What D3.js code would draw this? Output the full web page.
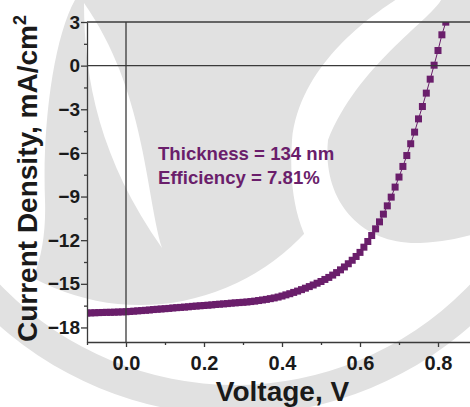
<!DOCTYPE html>
<html>
<head>
<meta charset="utf-8">
<script src="https://cdn.jsdelivr.net/npm/d3@7"></script>
<style>
	body { margin: 0; background: #fff; }
	svg { display: block; }
	text { font-family: "Liberation Sans", Arial, sans-serif; font-weight: bold; }
</style>
</head>
<body>
<div id="chart"></div>
<script>
// J-V sweep, one point every 10 mV
const voltage = [
	-0.10, -0.09, -0.08, -0.07, -0.06, -0.05, -0.04, -0.03, -0.02, -0.01,
	0.00, 0.01, 0.02, 0.03, 0.04, 0.05, 0.06, 0.07, 0.08, 0.09,
	0.10, 0.11, 0.12, 0.13, 0.14, 0.15, 0.16, 0.17, 0.18, 0.19,
	0.20, 0.21, 0.22, 0.23, 0.24, 0.25, 0.26, 0.27, 0.28, 0.29,
	0.30, 0.31, 0.32, 0.33, 0.34, 0.35, 0.36, 0.37, 0.38, 0.39,
	0.40, 0.41, 0.42, 0.43, 0.44, 0.45, 0.46, 0.47, 0.48, 0.49,
	0.50, 0.51, 0.52, 0.53, 0.54, 0.55, 0.56, 0.57, 0.58, 0.59,
	0.60, 0.61, 0.62, 0.63, 0.64, 0.65, 0.66, 0.67, 0.68, 0.69,
	0.70, 0.71, 0.72, 0.73, 0.74, 0.75, 0.76, 0.77, 0.78, 0.79,
	0.80, 0.81, 0.82, 0.83
];
const currentDensity = [
	-17.01, -17.00, -16.99, -16.98, -16.97, -16.96, -16.96, -16.95, -16.94, -16.93,
	-16.92, -16.90, -16.88, -16.86, -16.84, -16.82, -16.80, -16.77, -16.75, -16.73,
	-16.71, -16.69, -16.66, -16.64, -16.62, -16.60, -16.58, -16.55, -16.53, -16.51,
	-16.49, -16.47, -16.45, -16.42, -16.40, -16.38, -16.36, -16.33, -16.31, -16.29,
	-16.27, -16.25, -16.22, -16.19, -16.15, -16.11, -16.07, -16.02, -15.97, -15.91,
	-15.84, -15.76, -15.68, -15.59, -15.50, -15.40, -15.30, -15.19, -15.08, -14.96,
	-14.84, -14.70, -14.56, -14.40, -14.23, -14.04, -13.84, -13.62, -13.38, -13.12,
	-12.84, -12.48, -12.09, -11.68, -11.22, -10.74, -10.21, -9.64, -9.04, -8.35,
	-7.66, -6.93, -6.18, -5.37, -4.57, -3.66, -2.81, -1.89, -0.93, 0.03,
	1.04, 2.12, 2.99, 4.05
];

const xMajorTicks = [0.0, 0.2, 0.4, 0.6, 0.8];
const xMinorTicks = [-0.1, 0.1, 0.3, 0.5, 0.7];
const yMajorTicks = [-18, -15, -12, -9, -6, -3, 0, 3];
const yMinorTicks = [-16.5, -13.5, -10.5, -7.5, -4.5, -1.5, 1.5];
const annotation = ['Thickness = 134 nm', 'Efficiency = 7.81%'];

const width = 470, height = 407;
const margin = { top: 22, right: -7, bottom: 65, left: 87 };
const purple = '#6a1e6b';
const axisColor = '#3a3a3a';
const shade = '#e1e1e1';


// faint logo printed behind the figure
function drawWatermark(svg) {
	let g = svg.append('g').attr('class', 'watermark');
	g.append('rect').attr('width', width).attr('height', 60).attr('y', -20).attr('fill', shade);
	g.append('circle').attr('cx', 140).attr('cy', 80).attr('r', 225).attr('fill', shade);
	// white hollow on the far left
	g.append('path')
		.attr('d', 'M-5,-5 L78,-5 C55,30 42,120 45,200 C47,260 30,300 -5,330 Z')
		.attr('fill', '#fff');
	// white crescent next to the y axis
	g.append('path')
		.attr('d', 'M84,3 C84,80 100,160 162,248 C145,190 145,90 84,3 Z')
		.attr('fill', '#fff');
	// white ring and the disc on the right
	g.append('path')
		.attr('d', 'M403,-5 C380,10 300,60 292,140 C288,200 300,240 330,275 L475,275 L475,-5 Z')
		.attr('fill', '#fff');
	g.append('path')
		.attr('d', 'M443,-5 C440,15 360,60 328,140 C322,200 360,245 420,243 C445,242 460,238 475,234 L475,-5 Z')
		.attr('fill', shade);
	// sweeping band along the bottom
	let arc = d3.arc()
		.innerRadius(325)
		.outerRadius(355)
		.startAngle(0)
		.endAngle(2 * Math.PI);
	g.append('path')
		.attr('transform', 'translate(235,60)')
		.attr('d', arc())
		.attr('fill', shade);
}


function scales() {
	let x = d3.scaleLinear()
		.domain([-0.1, 0.9])
		.range([margin.left, width - margin.right]);
	let y = d3.scaleLinear()
		.domain([-19, 3])
		.range([height - margin.bottom, margin.top]);
	return { x, y };
}


function drawAxes(svg, scale) {
	let y0 = height - margin.bottom;
	let x0 = margin.left;

	let xAxis = svg.append('g')
		.attr('transform', `translate(0,${y0})`)
		.call(d3.axisBottom(scale.x)
			.tickValues(xMajorTicks)
			.tickFormat(d3.format('.1f'))
			.tickSize(5)
			.tickSizeOuter(0)
			.tickPadding(9));
	svg.append('g')
		.attr('transform', `translate(0,${y0})`)
		.call(d3.axisBottom(scale.x).tickValues(xMinorTicks).tickFormat('').tickSize(3).tickSizeOuter(0))
		.select('.domain').remove();

	let yAxis = svg.append('g')
		.attr('transform', `translate(${x0},0)`)
		.call(d3.axisLeft(scale.y)
			.tickValues(yMajorTicks)
			.tickFormat(d3.format('d'))
			.tickSize(6)
			.tickSizeOuter(0)
			.tickPadding(1));
	svg.append('g')
		.attr('transform', `translate(${x0},0)`)
		.call(d3.axisLeft(scale.y).tickValues(yMinorTicks).tickFormat('').tickSize(3).tickSizeOuter(0))
		.select('.domain').remove();

	svg.selectAll('.domain, .tick line')
		.attr('stroke', axisColor)
		.attr('stroke-width', 1.3);
	xAxis.selectAll('text').attr('font-size', 20).attr('fill', '#1a1a1a');
	yAxis.selectAll('text').attr('font-size', 19).attr('fill', '#1a1a1a');

	// top frame and the zero cross-hairs
	let lines = [
		[scale.x.range()[0], scale.y(3), scale.x.range()[1], scale.y(3)],
		[scale.x.range()[0], scale.y(0), scale.x.range()[1], scale.y(0)],
		[scale.x(0), scale.y.range()[0], scale.x(0), scale.y.range()[1]]
	];
	svg.append('g').selectAll('line')
		.data(lines)
		.join('line')
		.attr('x1', d => d[0]).attr('y1', d => d[1])
		.attr('x2', d => d[2]).attr('y2', d => d[3])
		.attr('stroke', axisColor)
		.attr('stroke-width', 1.3);
}


function drawData(svg, scale) {
	let data = voltage.map((v, i) => [v, currentDensity[i]]);

	svg.append('clipPath').attr('id', 'plot-clip')
		.append('rect')
		.attr('x', scale.x.range()[0])
		.attr('y', scale.y.range()[1])
		.attr('width', scale.x.range()[1] - scale.x.range()[0])
		.attr('height', scale.y.range()[0] - scale.y.range()[1]);

	let g = svg.append('g').attr('clip-path', 'url(#plot-clip)');

	let line = d3.line()
		.x(d => scale.x(d[0]))
		.y(d => scale.y(d[1]));
	g.append('path')
		.datum(data)
		.attr('d', line)
		.attr('fill', 'none')
		.attr('stroke', purple)
		.attr('stroke-width', 1);

	let s = 7;
	g.selectAll('rect.pt')
		.data(data)
		.join('rect')
		.attr('class', 'pt')
		.attr('x', d => scale.x(d[0]) - s / 2)
		.attr('y', d => scale.y(d[1]) - s / 2)
		.attr('width', s)
		.attr('height', s)
		.attr('fill', purple);
}


function drawLabels(svg, scale) {
	svg.append('text')
		.attr('x', (scale.x(-0.1) + 478) / 2)
		.attr('y', 401)
		.attr('text-anchor', 'middle')
		.attr('font-size', 28)
		.attr('fill', '#1a1a1a')
		.text('Voltage, V');

	let yl = svg.append('text')
		.attr('transform', 'translate(37,342) rotate(-90)')
		.attr('font-size', 28)
		.attr('fill', '#1a1a1a');
	yl.append('tspan').text('Current Density, mA/cm');
	yl.append('tspan').attr('font-size', 18).attr('dy', -11).text('2');

	svg.append('g').selectAll('text')
		.data(annotation)
		.join('text')
		.attr('x', 158)
		.attr('y', (d, i) => 160 + i * 24)
		.attr('font-size', 18.6)
		.attr('fill', purple)
		.text(d => d);
}


let svg = d3.select('#chart').append('svg')
	.attr('width', width)
	.attr('height', height);
svg.append('rect').attr('width', width).attr('height', height).attr('fill', '#fff');

drawWatermark(svg);
let scale = scales();
drawData(svg, scale);
drawAxes(svg, scale);
drawLabels(svg, scale);
</script>
</body>
</html>
